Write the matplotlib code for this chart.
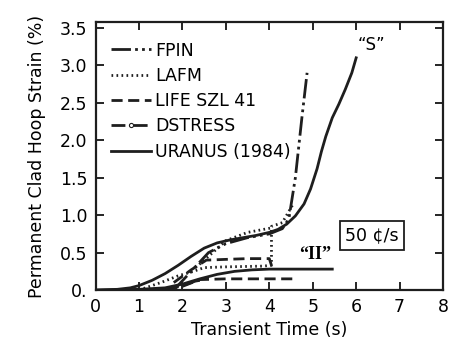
import matplotlib
matplotlib.use("Agg")
import matplotlib.pyplot as plt
from matplotlib.lines import Line2D

plt.rcParams['font.family'] = ['Liberation Sans Narrow', 'DejaVu Sans Condensed', 'DejaVu Sans']

# URANUS (1984), case "S"
uranus_s_t = [0.0, 0.5, 0.8, 1.0, 1.3, 1.6, 1.9, 2.2, 2.5, 2.8, 3.1, 3.4, 3.7, 4.0, 4.2, 4.4,
              4.6, 4.8, 4.95, 5.1, 5.2, 5.3, 5.45, 5.6, 5.75, 5.9, 6.0]
uranus_s_e = [0.0, 0.01, 0.03, 0.06, 0.13, 0.22, 0.33, 0.45, 0.56, 0.63, 0.67, 0.7, 0.73, 0.77, 0.81, 0.88,
              0.99, 1.15, 1.35, 1.62, 1.85, 2.05, 2.3, 2.48, 2.68, 2.9, 3.1]
# URANUS (1984), case "II"
uranus_ii_t = [0.0, 1.0, 1.6, 2.0, 2.4, 2.8, 3.2, 3.6, 4.0, 5.45]
uranus_ii_e = [0.0, 0.01, 0.03, 0.08, 0.15, 0.21, 0.25, 0.27, 0.28, 0.28]
# FPIN
fpin_t = [1.8, 2.2, 2.6, 3.0, 3.5, 4.0, 4.3, 4.45, 4.6, 4.75, 4.87]
fpin_e = [0.0, 0.25, 0.5, 0.62, 0.7, 0.75, 0.82, 0.95, 1.5, 2.3, 2.9]
# LAFM
lafm_t = [1.0, 1.5, 1.9, 2.2, 2.5, 3.0, 3.85, 4.05, 4.05, 4.3, 4.55]
lafm_e = [0.0, 0.1, 0.19, 0.24, 0.3, 0.31, 0.32, 0.33, 0.85, 0.9, 1.15]
lafm2_t = [2.3, 2.6, 3.0, 3.5, 4.05]
lafm2_e = [0.3, 0.45, 0.66, 0.77, 0.83]
# LIFE SZL 41
life_t = [1.8, 2.2, 2.55, 3.0, 3.5, 4.0, 4.05]
life_e = [0.1, 0.27, 0.4, 0.41, 0.42, 0.42, 0.33]
life2_t = [2.0, 2.4, 3.0, 3.5, 4.0, 4.6]
life2_e = [0.05, 0.14, 0.15, 0.15, 0.15, 0.15]
# DSTRESS
dstress_t = [1.6, 2.0, 2.3, 2.6]
dstress_e = [0.0, 0.06, 0.12, 0.15]

fig = plt.figure(figsize=(4.53, 3.47), dpi=100)
ax = fig.add_axes([0.211, 0.164, 0.767, 0.773])

lw = 2.0
ink = '#1e1e1e'
fpin_ls = (0, (7, 1.5, 1, 1.5, 1, 1.5))
lafm_ls = (0, (0.6, 1.2))
life_ls = (0, (4, 2))
dstress_ls = (0, (5, 3))

ax.plot(uranus_s_t, uranus_s_e, color=ink, lw=lw)
ax.plot(uranus_ii_t, uranus_ii_e, color=ink, lw=lw)
ax.plot(fpin_t, fpin_e, color=ink, lw=lw, ls=fpin_ls)
ax.plot(lafm_t, lafm_e, color=ink, lw=lw, ls=lafm_ls)
ax.plot(lafm2_t, lafm2_e, color=ink, lw=lw, ls=lafm_ls)
ax.plot(life_t, life_e, color=ink, lw=lw, ls=life_ls)
ax.plot(life2_t, life2_e, color=ink, lw=lw, ls=life_ls)
ax.plot(dstress_t, dstress_e, color=ink, lw=lw, ls=dstress_ls)

handles = [
    Line2D([], [], color=ink, lw=lw, ls=fpin_ls),
    Line2D([], [], color=ink, lw=lw, ls=lafm_ls),
    Line2D([], [], color=ink, lw=lw, ls=life_ls),
    Line2D([], [], color=ink, lw=lw, ls=dstress_ls, marker='o', ms=3, mfc='white', mew=0.8),
    Line2D([], [], color=ink, lw=lw),
]
labels = ['FPIN', 'LAFM', 'LIFE SZL 41', 'DSTRESS', 'URANUS (1984)']
ax.legend(handles, labels, loc='upper left', bbox_to_anchor=(0.0, 0.985), frameon=False,
          fontsize=12.5, handlelength=2.3, handletextpad=0.25, labelspacing=0.42,
          borderaxespad=0.5, numpoints=1)

ax.text(6.35, 3.27, '“S”', fontsize=12, ha='center', va='center')
ax.text(5.05, 0.48, '“II”', fontsize=13, ha='center', va='center', family='Liberation Serif',
        weight='bold')
ax.text(6.36, 0.73, '50 ¢/s', fontsize=12.5, ha='center', va='center',
        bbox=dict(boxstyle='square,pad=0.3', fc='white', ec=ink, lw=1.3))

ax.set_xlim(0, 8)
ax.set_ylim(0, 3.58)
ax.set_xticks(range(0, 9))
ax.set_yticks([0, 0.5, 1.0, 1.5, 2.0, 2.5, 3.0, 3.5])
ax.set_yticklabels(['0.', '0.5', '1.0', '1.5', '2.0', '2.5', '3.0', '3.5'])
ax.tick_params(direction='in', top=True, right=True, length=6, width=1.2, labelsize=12.5, pad=6)
for s in ax.spines.values():
    s.set_linewidth(1.6)
    s.set_color(ink)
ax.set_xlabel('Transient Time (s)', fontsize=12.5, labelpad=3)
ax.set_ylabel('Permanent Clad Hoop Strain (%)', fontsize=12.5, labelpad=10)

plt.savefig('out.png', dpi=100)
